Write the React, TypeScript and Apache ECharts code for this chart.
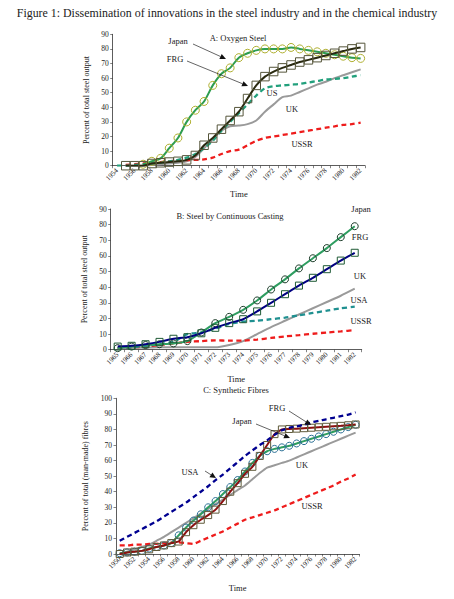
import React, { useEffect, useRef } from "react";
import * as echarts from "echarts";

// ---------- Panel A: Oxygen Steel ----------
const yearsA = ["1954","1955","1956","1957","1958","1959","1960","1961","1962","1963","1964","1965","1966","1967","1968","1969","1970","1971","1972","1973","1974","1975","1976","1977","1978","1979","1980","1981","1982"];
const japanA = [null,null,null,1,3,5,12,19,30,38,44,55,63,67,74,77,79,80,80,80,81,80,79,78,77,76,75,74,73.5];
const frgA = [null,0,0,0,1.5,2,2.5,3,4,7,14,19,25,31,37,46,55,61,64.5,67,69,71,72.5,74,75.5,77,78.5,80,81];
const usA = [0,0,0.5,1,1.5,2,3,4,5.5,8,12,17,24,30,36,42,48,53,54.5,55,55.5,56,57,58,59,59.5,60,61,62];
const ukA = [null,0,0,0,0.5,1,1.5,2,3,6,12,18,24,27,27.5,28.5,31,37,42,47,48,50.5,53,55.5,57.5,60,62,64,66];
const ussrA = [null,0.5,1,1.5,2,2.5,3,3.5,3.8,4,4.3,5.5,8,10,11,14,17,19,20,21,22,23,24,25,26,27,28,28.5,29.5];

// ---------- Panel B: Steel by Continuous Casting ----------
const yearsB = ["1965","1966","1967","1968","1969","1970","1971","1972","1973","1974","1975","1976","1977","1978","1979","1980","1981","1982"];
const japanB = [1,2,3,3.5,4,5.5,11,17,21,25.5,31.5,38.5,45,52,58.5,65,72,79];
const frgB = [2,2.5,3.5,5,7,8,10.5,14,17,19.5,24.5,30,35.5,41,46,51.5,57,62];
const ukB = [1,1.2,1.4,1.5,1.5,1.5,1.5,1.5,3,5.5,10,14.5,18.5,22.5,26.5,30.5,34.5,39];
const usaB = [1,1.5,2.5,3.5,5,10,11,13.5,16.5,18,18.5,19.5,20.5,22,23.5,25,26.5,27.5];
const ussrB = [1,1.5,2,3,4,5,5.5,6,5.8,5.8,6.5,7.5,8.5,9.3,10.2,11,11.7,12.5];

// ---------- Panel C: Synthetic Fibres ----------
const yearsC = ["1950","1951","1952","1953","1954","1955","1956","1957","1958","1959","1960","1961","1962","1963","1964","1965","1966","1967","1968","1969","1970","1971","1972","1973","1974","1975","1976","1977","1978","1979","1980","1981","1982"];
const japanC = [0.5,1,1.5,2,3.5,4.5,5.5,7,12,17,21.5,25.5,30,34,38.5,43,47.5,53,58.5,63,66,67.5,68.5,69.5,71,72.5,74,75.5,77,78.5,80,81.5,83];
const frgC = [0,1,1.5,2,3,4.5,5.5,7,8,14,18.5,22,25,28.5,34,40,45.5,51.5,56,63,70,77,80,80.3,80.5,80.8,81.1,81.4,81.7,82,82.3,82.7,83.2];
const ukC = [0,1.5,3,4.5,6,8.5,11,14,17,20,23,26,29,32,35,38,41,44,48,52,55.5,57,58.5,60,62,64,66,68,70,72,74,76,78];
const usaC = [8.5,11,13.5,16,18.5,21,24,27,30,33,36.5,40,43.5,47.5,51,55,59,63,66.5,70,73,76.5,79.5,81,82,83,84.5,85.5,86.5,87.5,88.5,89.5,91];
const ussrC = [5.5,5.5,6,6,6.5,6.5,7,7.5,7.5,7,6.5,8.5,10.5,12.5,14.5,17,19.5,22,23.5,25,26.5,28,30,32,34,36,38,40,42,44,46.5,48.5,51];

const FONT = "'Liberation Serif', 'DejaVu Serif', serif";
const TXT = "#222";

function xAxisCfg(gridIndex: number, data: string[], labelInterval: number, nameGap: number) {
  return {
    type: "category",
    gridIndex,
    data,
    boundaryGap: true,
    name: "Time",
    nameLocation: "middle",
    nameGap,
    nameTextStyle: { fontFamily: FONT, fontSize: 8.5, color: TXT },
    axisLine: { lineStyle: { color: "#333", width: 0.8 } },
    axisTick: { show: true, interval: 0, length: 2.5, lineStyle: { color: "#333", width: 0.6 } },
    axisLabel: { interval: labelInterval, rotate: 45, fontFamily: FONT, fontSize: 7, color: TXT, margin: 4 },
    splitLine: { show: false },
  };
}

function yAxisCfg(gridIndex: number, max: number, name: string, nameGap: number) {
  return {
    type: "value",
    gridIndex,
    min: 0,
    max,
    interval: 10,
    name,
    nameLocation: "middle",
    nameRotate: 90,
    nameGap,
    nameTextStyle: { fontFamily: FONT, fontSize: 8, color: TXT },
    axisLine: { show: true, lineStyle: { color: "#333", width: 0.8 } },
    axisTick: { show: true, length: 2.5, lineStyle: { color: "#333", width: 0.6 } },
    axisLabel: { fontFamily: FONT, fontSize: 7.5, color: TXT, margin: 4 },
    splitLine: { show: false },
  };
}

function lineSeries(idx: number, data: (number | null)[], color: string, opts: any = {}) {
  const dashed = opts.dashed;
  return {
    type: "line",
    xAxisIndex: idx,
    yAxisIndex: idx,
    data,
    smooth: opts.smooth ?? 0.3,
    symbol: opts.symbol ?? "none",
    symbolSize: opts.symbolSize ?? 8,
    showSymbol: !!opts.symbol,
    showAllSymbol: true,
    itemStyle: { color: "rgba(0,0,0,0)", borderColor: opts.markerColor ?? color, borderWidth: opts.markerWidth ?? 1 },
    lineStyle: { color, width: dashed ? 2.3 : 2, type: dashed ? [5, 3.5] : "solid" },
    z: opts.z ?? 2,
    silent: true,
    emphasis: { disabled: true },
  };
}

function label(x: number, y: number, text: string, size = 8.5) {
  return {
    type: "text",
    x,
    y,
    style: { text, fontFamily: FONT, fontSize: size, fill: TXT, textAlign: "center", textVerticalAlign: "middle" },
    z: 50,
  };
}

function arrow(x1: number, y1: number, x2: number, y2: number) {
  const a = Math.atan2(y2 - y1, x2 - x1);
  const L = 6, W = 2.8;
  const bx = x2 - L * Math.cos(a), by = y2 - L * Math.sin(a);
  const p2 = [bx + W * Math.sin(a), by - W * Math.cos(a)];
  const p3 = [bx - W * Math.sin(a), by + W * Math.cos(a)];
  return [
    { type: "line", shape: { x1, y1, x2: bx, y2: by }, style: { stroke: "#222", lineWidth: 0.7 }, z: 50 },
    { type: "polygon", shape: { points: [[x2, y2], p2, p3] }, style: { fill: "#111" }, z: 50 },
  ];
}

export default function App() {
  const ref = useRef<HTMLDivElement>(null);
  useEffect(() => {
    if (!ref.current) return;
    const chart = echarts.init(ref.current, undefined, { renderer: "svg" });
    const option: any = {
      animation: false,
      backgroundColor: "#ffffff",
      grid: [
        { left: 112.7, top: 34.3, width: 252.3, height: 131.4 },
        { left: 110.7, top: 209, width: 251, height: 140.7 },
        { left: 116, top: 398.3, width: 243.3, height: 155.7 },
      ],
      xAxis: [xAxisCfg(0, yearsA, 1, 24), xAxisCfg(1, yearsB, 0, 25), xAxisCfg(2, yearsC, 1, 29)],
      yAxis: [
        yAxisCfg(0, 90, "Percent of total steel output", 13),
        yAxisCfg(1, 90, "Percent of total steel output", 13),
        yAxisCfg(2, 100, "Percent of total (man-made) fibres", 18),
      ],
      series: [
        // Panel A
        lineSeries(0, ukA, "#9a9a9a", { z: 2 }),
        lineSeries(0, ussrA, "#ee1c1c", { dashed: true, z: 3 }),
        lineSeries(0, usA, "#22a07c", { dashed: true, z: 4 }),
        lineSeries(0, japanA, "#2e9d50", { symbol: "circle", symbolSize: 8, markerColor: "#b0b030", z: 5 }),
        lineSeries(0, frgA, "#2a2a10", { symbol: "rect", symbolSize: 8.5, markerColor: "#55553a", z: 6 }),
        // Panel B
        lineSeries(1, ukB, "#9a9a9a", { smooth: 0.2, z: 2 }),
        lineSeries(1, ussrB, "#ee1c1c", { dashed: true, smooth: 0.2, z: 3 }),
        lineSeries(1, usaB, "#1f9090", { dashed: true, smooth: 0.2, z: 4 }),
        lineSeries(1, japanB, "#2e9d60", { symbol: "circle", symbolSize: 7, markerColor: "#1d3d2a", smooth: 0.2, z: 5 }),
        lineSeries(1, frgB, "#000080", { symbol: "rect", symbolSize: 7, markerColor: "#1e5a35", smooth: 0.2, z: 6 }),
        // Panel C
        lineSeries(2, ukC, "#9a9a9a", { smooth: 0.15, z: 2 }),
        lineSeries(2, ussrC, "#ee1c1c", { dashed: true, smooth: 0.15, z: 3 }),
        lineSeries(2, japanC, "#2e9d60", { symbol: "circle", symbolSize: 7, markerColor: "#2a6f95", smooth: 0.15, z: 4 }),
        lineSeries(2, frgC, "#8b1010", { symbol: "rect", symbolSize: 7, markerColor: "#5f5a3a", smooth: 0.1, z: 5 }),
        lineSeries(2, usaC, "#000090", { dashed: true, smooth: 0.15, z: 6 }),
      ],
      graphic: [
        label(227, 13, "Figure 1: Dissemination of innovations in the steel industry and in the chemical industry", 11.9),
        // Panel A
        label(238, 37.7, "A: Oxygen Steel", 8.5),
        label(178, 41, "Japan"),
        ...arrow(193, 44, 226, 59),
        label(175, 59, "FRG"),
        ...arrow(187, 61, 248, 86),
        label(272, 93, "US"),
        label(292, 109, "UK"),
        label(302, 144, "USSR"),
        // Panel B
        label(230, 215.7, "B: Steel by Continuous Casting", 8.5),
        label(361, 208.5, "Japan"),
        label(360, 236.7, "FRG"),
        label(360, 276, "UK"),
        label(359, 300, "USA"),
        label(361, 321, "USSR"),
        // Panel C
        label(236, 389.5, "C: Synthetic Fibres", 8.5),
        label(277, 408, "FRG"),
        ...arrow(289, 411, 311, 425),
        label(242, 421, "Japan"),
        ...arrow(256, 424, 290, 438),
        label(190, 472, "USA"),
        ...arrow(205, 471, 216, 478),
        label(302, 465, "UK"),
        label(312, 505.5, "USSR"),
      ],
    };
    chart.setOption(option);
    return () => chart.dispose();
  }, []);
  return (
    <div
      ref={ref}
      style={{ position: "absolute", left: 0, top: 0, width: 454, height: 599, background: "#fff" }}
    />
  );
}
